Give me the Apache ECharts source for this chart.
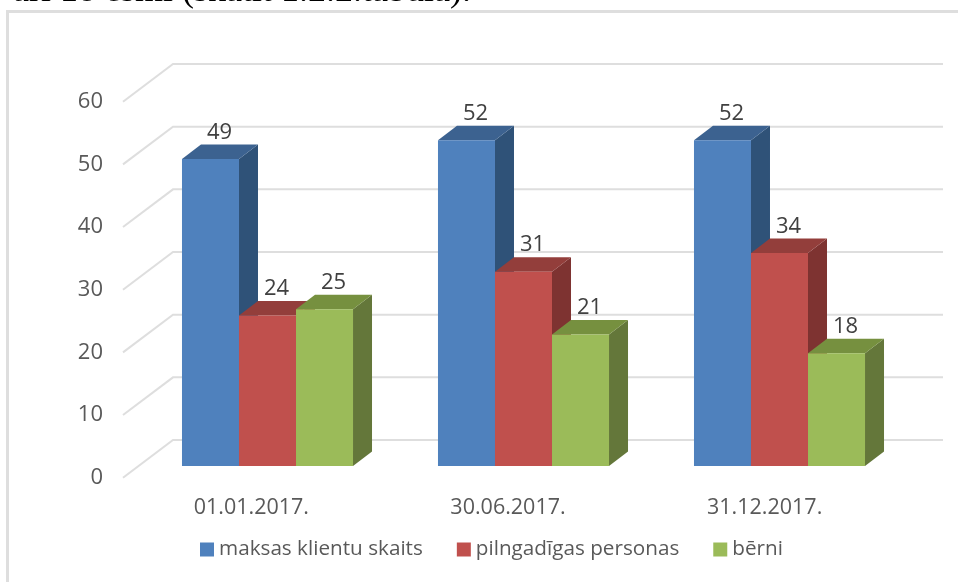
<!DOCTYPE html>
<html><head><meta charset="utf-8">
<style>html,body{margin:0;padding:0;background:#fff}#c{width:958px;height:582px}</style>
<script src="https://cdn.jsdelivr.net/npm/echarts@6/dist/echarts.min.js"></script>
</head><body><div id="c"></div>
<script>
const categories = ['01.01.2017.', '30.06.2017.', '31.12.2017.'];
const maksasKlienti = [49, 52, 52];
const pilngadigas = [24, 31, 34];
const berni = [25, 21, 18];
const gridTicks = [0, 10, 20, 30, 40, 50, 60];

const FONT = '"Open Sans","Noto Sans",sans-serif';
const chart = echarts.init(document.getElementById('c'), null, {renderer: 'canvas'});

function barSeries(name, values, seriesPos, front, top, side) {
  return {
    type: 'custom', name, xAxisIndex: 1, yAxisIndex: 1, clip: false, z: 3 + seriesPos,
    itemStyle: {color: front},
    data: values.map((v, i) => [i, v]),
    renderItem(params, api) {
      const w = api.size([1, 0])[0] * 0.2227;
      const t = api.coord([api.value(0), api.value(1)]);
      const b = api.coord([api.value(0), 0]);
      const x = t[0] + (seriesPos - 1.5) * w, dx = 19, dy = -14.5;
      const poly = (pts, fill) => ({type: 'polygon', shape: {points: pts}, style: {fill}});
      return {type: 'group', children: [
        poly([[x + w, b[1]], [x + w + dx, b[1] + dy], [x + w + dx, t[1] + dy], [x + w, t[1]]], side),
        poly([[x, t[1]], [x + dx, t[1] + dy], [x + w + dx, t[1] + dy], [x + w, t[1]]], top),
        {type: 'rect', shape: {x, y: t[1], width: w, height: b[1] - t[1]}, style: {fill: front}},
        {type: 'text', x: x + w / 2 + 9, y: t[1] - 26.5, style: {text: String(api.value(1)), fill: '#404040', font: '22px ' + FONT, textAlign: 'center', textVerticalAlign: 'middle'}}
      ]};
    }
  };
}

chart.setOption({
  animation: false,
  backgroundColor: '#fff',
  grid: [
    {left: 123, width: 770, top: 101.7, height: 376},
    {left: 139.5, width: 768, top: 90, height: 376}
  ],
  xAxis: [
    {type: 'category', gridIndex: 0, data: categories, axisLine: {show: false}, axisTick: {show: false},
     axisLabel: {color: '#595959', fontSize: 21.5, fontFamily: FONT, margin: 19}},
    {type: 'category', gridIndex: 1, data: categories, show: false}
  ],
  yAxis: [
    {type: 'value', gridIndex: 0, min: 0, max: 60, interval: 10, axisLine: {show: false}, axisTick: {show: false},
     splitLine: {show: false}, axisLabel: {color: '#595959', fontSize: 22, fontFamily: FONT, margin: 20, padding: [2, 0, 0, 0]}},
    {type: 'value', gridIndex: 1, min: 0, max: 60, interval: 10, show: false, splitLine: {show: false}}
  ],
  legend: {
    left: 195, top: 534, icon: 'rect', itemWidth: 14, itemHeight: 14, itemGap: 34,
    data: ['maksas klientu skaits', 'pilngadīgas personas', 'bērni'],
    textStyle: {color: '#595959', fontSize: 20.7, fontFamily: FONT}
  },
  series: [
    {type: 'custom', name: 'walls', xAxisIndex: 0, yAxisIndex: 0, clip: false, z: 1, silent: true,
     data: gridTicks.map(v => [0, v]),
     renderItem(params, api) {
       const p = api.coord([0, api.value(1)]);
       const left = params.coordSys.x, right = left + params.coordSys.width;
       return {type: 'polyline',
         shape: {points: [[left, p[1]], [left + 50, p[1] - 37.7], [right + 50, p[1] - 37.7]]},
         style: {fill: null, stroke: '#dedede', lineWidth: 2}};
     }},
    barSeries('maksas klientu skaits', maksasKlienti, 0, '#4f81bd', '#3c6290', '#2f5278'),
    barSeries('pilngadīgas personas', pilngadigas, 1, '#c0504d', '#933e3b', '#7e3331'),
    barSeries('bērni', berni, 2, '#9bbb59', '#76903f', '#64773a')
  ],
  graphic: [
    {type: 'rect', shape: {x: 7.5, y: 11.5, width: 980, height: 600}, style: {fill: null, stroke: '#dedede', lineWidth: 3}, z: 0},
    {type: 'text', x: 13, y: -26, style: {text: 'arī 18 ēšmi (skatīt 1.2.2.tabula).', fill: '#000', font: '36px "Liberation Serif",serif'}, z: 10}
  ]
});
</script></body></html>
